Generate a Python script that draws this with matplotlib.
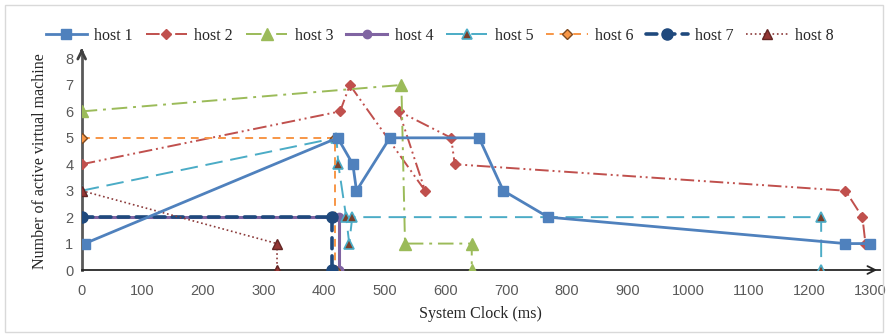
import matplotlib
matplotlib.use('Agg')
import matplotlib.pyplot as plt
from matplotlib.patches import Rectangle

# host series: (system clock ms, active VM count)
host1_x = [5, 422, 447, 453, 508, 655, 695, 769, 1259, 1300]
host1_y = [1, 5, 4, 3, 5, 5, 3, 2, 1, 1]
host2_x = [0, 426, 442, 566, 523, 609, 615, 1259, 1287, 1292, 1300]
host2_y = [4, 6, 7, 3, 6, 5, 4, 3, 2, 1, 1]
host3_x = [0, 527, 533, 643, 643]
host3_y = [6, 7, 1, 1, 0]
host4_x = [0, 424, 424]
host4_y = [2, 2, 0]
host5_x = [0, 420, 423, 436, 441, 446, 1219, 1219]
host5_y = [3, 5, 4, 2, 1, 2, 2, 0]
host6_x = [0, 418, 418]
host6_y = [5, 5, 0]
host7_x = [0, 412, 412]
host7_y = [2, 2, 0]
host8_x = [0, 322, 322]
host8_y = [3, 1, 0]

labels = ['host 1', 'host 2', 'host 3', 'host 4', 'host 5', 'host 6', 'host 7', 'host 8']
x_ticks = list(range(0, 1301, 100))
y_ticks = list(range(0, 9))

serif = ['Liberation Serif', 'DejaVu Serif']

fig = plt.figure(figsize=(8.88, 3.35), dpi=100)
ax = fig.add_axes([0.092, 0.194, 0.899, 0.651])

ax.plot(host1_x, host1_y, color='#4F81BD', lw=2, marker='s', ms=7, label=labels[0], zorder=5)
ax.plot(host2_x, host2_y, color='#C0504D', lw=1.4, dashes=(7, 2, 1, 2, 1, 2), marker='D', ms=5,
        label=labels[1], zorder=4)
ax.plot(host3_x, host3_y, color='#9BBB59', lw=1.4, dashes=(8, 3, 1.5, 3), marker='^', ms=8,
        label=labels[2], zorder=4)
ax.plot(host4_x, host4_y, color='#8064A2', lw=2.2, marker='o', ms=6, label=labels[3], zorder=3)
ax.plot(host5_x, host5_y, color='#4BACC6', lw=1.4, dashes=(9, 4), marker='^', ms=7,
        mfc='#7B3F2A', mec='#4BACC6', mew=1.2, label=labels[4], zorder=4)
ax.plot(host6_x, host6_y, color='#F79646', lw=1.4, dashes=(4, 3), marker='D', ms=5,
        mfc='#F79646', mec='#7F4A1F', label=labels[5], zorder=4)
ax.plot(host7_x, host7_y, color='#1F497D', lw=2.6, dashes=(3, 2), dash_capstyle='round',
        marker='o', ms=8, label=labels[6], zorder=4)
ax.plot(host8_x, host8_y, color='#8B3A3A', lw=1.2, ls=':', marker='^', ms=7,
        mfc='#943634', mec='#632523', label=labels[7], zorder=4)

ax.set_xlim(0, 1316)
ax.set_ylim(0, 8.25)
ax.set_xticks(x_ticks)
ax.set_yticks(y_ticks)
ax.tick_params(length=0, labelsize=10.5, colors='#595959')
ax.tick_params(axis='x', pad=10)
ax.tick_params(axis='y', pad=6)
for lab in ax.get_xticklabels() + ax.get_yticklabels():
    lab.set_family('Liberation Sans')

ax.spines['top'].set_visible(False)
ax.spines['right'].set_visible(False)
ax.spines['left'].set_color('#595959')
ax.spines['left'].set_linewidth(2)
ax.spines['bottom'].set_color('#262626')
ax.spines['bottom'].set_linewidth(1.3)

# open arrowheads at the ends of both axes
ax.annotate('', xy=(1.0, 0), xytext=(0.985, 0), xycoords='axes fraction',
            arrowprops=dict(arrowstyle='->', color='#262626', lw=1.3, mutation_scale=14),
            annotation_clip=False)
ax.annotate('', xy=(0, 1.03), xytext=(0, 0.99), xycoords='axes fraction',
            arrowprops=dict(arrowstyle='->', color='#404040', lw=2, mutation_scale=14),
            annotation_clip=False)

ax.set_xlabel('System Clock (ms)', family=serif, fontsize=11.5, color='#262626', labelpad=6)
ax.set_ylabel('Number of active virtual machine', family=serif, fontsize=11.5, color='#262626',
              labelpad=12)

fig.legend(loc='upper center', bbox_to_anchor=(0.495, 0.96), ncol=8, frameon=False,
           prop={'family': serif, 'size': 11.5}, handlelength=2.6, columnspacing=0.8,
           handletextpad=0.45, labelcolor='#262626')

fig.patches.append(Rectangle((0.006, 0.01), 0.988, 0.975, transform=fig.transFigure,
                             fill=False, edgecolor='#D9D9D9', lw=1))

fig.savefig('out.png', dpi=100)
